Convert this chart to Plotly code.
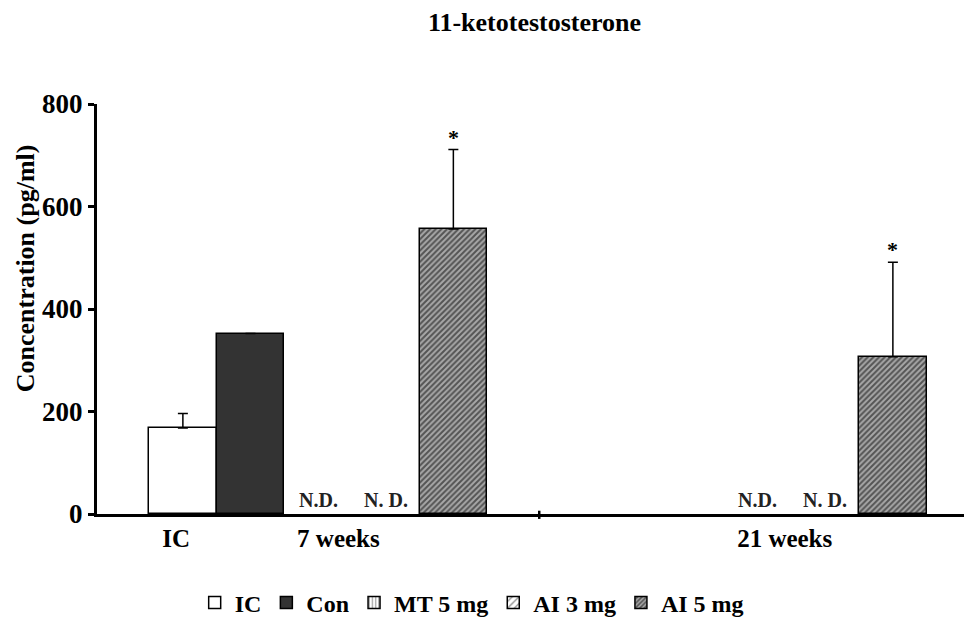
import plotly.graph_objects as go

# Chart data; None = not detected
treatments = ["IC", "Con", "MT 5 mg", "AI 3 mg", "AI 5 mg"]
groups = ["IC", "7 weeks", "21 weeks"]

ic_mean = 168
ic_err = 28

# order within a week group: Con, MT 5 mg, AI 3 mg, AI 5 mg
week7_mean = [352, None, None, 556]
week7_err = [0, 0, 0, 155]
week7_nd = [False, True, True, False]
week7_sig = [False, False, False, True]

week21_mean = [None, None, None, 307]
week21_err = [0, 0, 0, 184]
week21_nd = [False, True, True, False]
week21_sig = [False, False, False, True]

# layout of the bar slots on the x axis (in bar widths)
group_start = {"IC": 0, "7 weeks": 1, "21 weeks": 7.5}
group_label_pos = {"IC": -0.1, "7 weeks": 2.3, "21 weeks": 8.9}

serif = "Liberation Serif, Times New Roman, serif"
font = dict(family=serif, size=24, color="black")

styles = {
    "IC": dict(color="white", pattern=None),
    "Con": dict(color="#333333", pattern=None),
    "MT 5 mg": dict(color="white", pattern=dict(shape="|", fgcolor="black", bgcolor="white", size=4, solidity=0.3)),
    "AI 3 mg": dict(color="white", pattern=dict(shape="/", fgcolor="black", bgcolor="white", size=6, solidity=0.25)),
    "AI 5 mg": dict(color="white", pattern=dict(shape="/", fgcolor="black", bgcolor="#a8a8a8", size=4, solidity=0.5)),
}

fig = go.Figure()
annotations = []

for i, name in enumerate(treatments):
    xs, ys, es = [], [], []
    if name == "IC":
        xs.append(group_start["IC"])
        ys.append(ic_mean)
        es.append(ic_err)
    else:
        j = i - 1
        for g, means, errs, nds, sigs in [("7 weeks", week7_mean, week7_err, week7_nd, week7_sig),
                                          ("21 weeks", week21_mean, week21_err, week21_nd, week21_sig)]:
            x = group_start[g] + j
            xs.append(x)
            ys.append(means[j])
            es.append(errs[j])
            if nds[j]:
                annotations.append(dict(x=x, y=0, yref="y", xref="x", text="<b>" + ("N.D." if j == 1 else "N. D.") + "</b>",
                                        showarrow=False, yanchor="bottom", yshift=1,
                                        font=dict(family=serif, size=20, color="#222")))
            if sigs[j]:
                annotations.append(dict(x=x, y=means[j] + errs[j], xref="x", yref="y", text="<b>*</b>",
                                        showarrow=False, yanchor="bottom", yshift=-2,
                                        font=dict(family=serif, size=22, color="black")))
    st = styles[name]
    marker = dict(color=st["color"], line=dict(color="black", width=1.5))
    if st["pattern"]:
        marker["pattern"] = st["pattern"]
    fig.add_bar(x=xs, y=ys, name="<b>" + name + "</b>", width=1.0, marker=marker,
                error_y=dict(type="data", array=es, arrayminus=[0] * len(es), symmetric=False,
                             color="black", thickness=1.5, width=5, visible=True))

# the page puts the plot 8px in from the top-left corner, so the figure is that much smaller
fig.update_layout(
    width=964, height=619,
    margin=dict(l=89, r=0, t=96, b=113),
    plot_bgcolor="white", paper_bgcolor="white",
    font=font,
    title=dict(text="<b>11-ketotestosterone</b>", x=0.5, xref="paper", y=0.977, yanchor="middle",
               font=dict(family=serif, size=26, color="black")),
    showlegend=True,
    legend=dict(orientation="h", xref="container", x=0.481, xanchor="center",
                yref="container", y=0.039, yanchor="middle",
                font=dict(family=serif, size=24, color="black"),
                itemwidth=30, traceorder="normal"),
    bargap=0,
    annotations=annotations + [
        dict(text="<b>Concentration (pg/ml)</b>", xref="paper", yref="paper", x=-0.082, y=0.6,
             textangle=-90, showarrow=False, xanchor="center", yanchor="middle",
             font=dict(family=serif, size=26, color="black")),
    ],
    shapes=[dict(type="line", xref="x", yref="paper", x0=5.27, x1=5.27, y0=-0.012, y1=0.008,
                 line=dict(color="black", width=2.5))],
)

fig.update_xaxes(range=[-1.27, 11.67], showgrid=False, zeroline=False,
                 showline=True, linecolor="black", linewidth=3,
                 tickvals=[group_label_pos[g] for g in groups],
                 ticktext=["<b>" + g + "</b>" for g in groups],
                 ticks="", tickfont=dict(family=serif, size=25, color="black"))
fig.update_yaxes(range=[0, 800], showgrid=False, zeroline=False,
                 showline=True, linecolor="black", linewidth=3,
                 tickvals=[0, 200, 400, 600, 800],
                 ticktext=["<b>0</b>", "<b>200</b>", "<b>400</b>", "<b>600</b>", "<b>800</b>"],
                 ticks="outside", ticklen=6, tickwidth=3, tickcolor="black",
                 tickfont=dict(family=serif, size=27, color="black"))

fig.write_html("out.html")
